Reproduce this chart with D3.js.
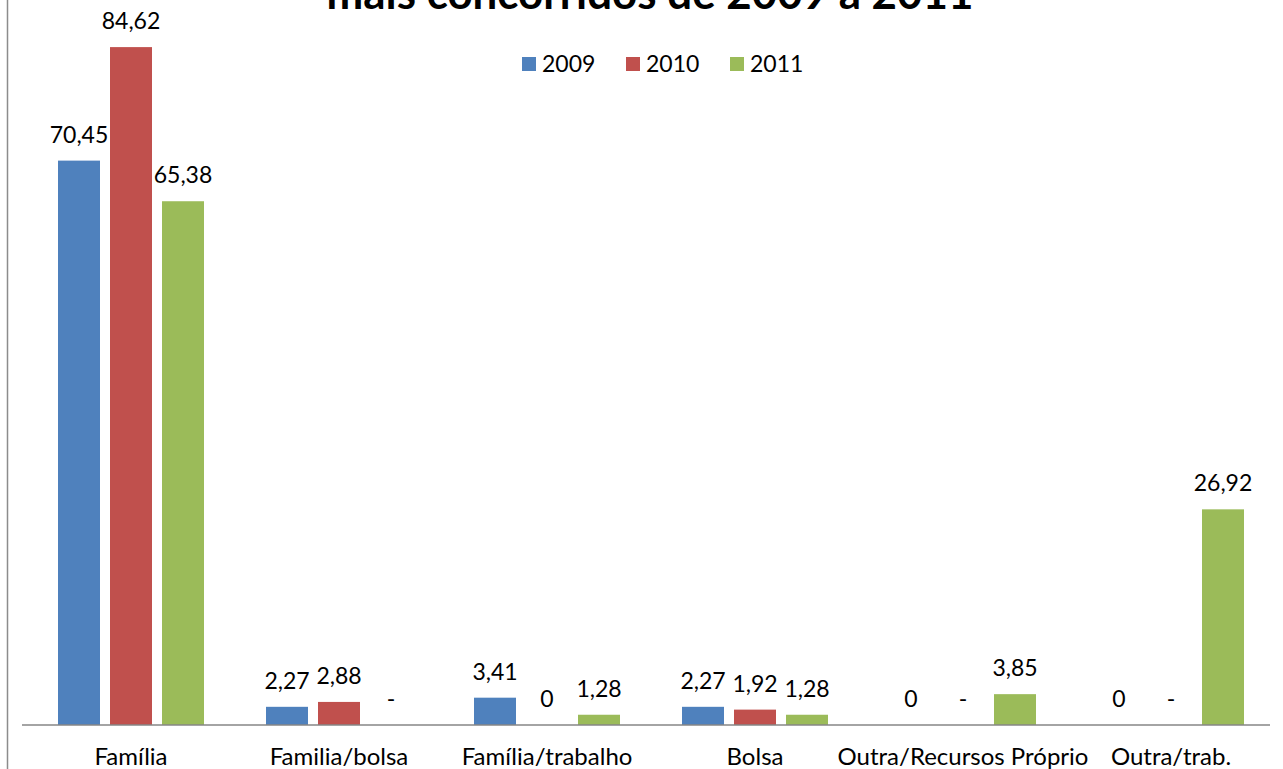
<!DOCTYPE html>
<html lang="pt">
<head>
  <meta charset="UTF-8">
  <title>mais concorridos de 2009 a 2011</title>
  <script src="https://d3js.org/d3.v7.min.js"></script>
  <style>
    body { margin: 0; background: #fff; }
    text { font-family: Lato, "Open Sans", sans-serif; fill: #000; }
  </style>
</head>
<body>
  <svg width="1283" height="769"></svg>
<script>
  const svg = d3.select("svg");
  const width = +svg.attr("width");
  const height = +svg.attr("height");

  // dados
  const categories = ["Família", "Familia/bolsa", "Família/trabalho", "Bolsa", "Outra/Recursos Próprio", "Outra/trab."];
  const series = ["2009", "2010", "2011"];
  const v2009 = [70.45, 2.27, 3.41, 2.27, 0, 0];
  const v2010 = [84.62, 2.88, 0, 1.92, null, null];
  const v2011 = [65.38, null, 1.28, 1.28, 3.85, 26.92];
  const colors = ["#4F81BD", "#C0504D", "#9BBB59"];
  const titleText = "mais concorridos de 2009 a 2011";

  const values = [v2009, v2010, v2011];
  const rows = [];
  categories.forEach((c, i) => {
    series.forEach((s, j) => rows.push({ cat: c, serie: s, value: values[j][i] }));
  });

  const baseY = 725;
  const x0 = d3.scaleBand().domain(categories).range([27, 1275]);
  const step = 52, barW = 42;
  const pIn = (step - barW) / step;
  const pOut = (x0.bandwidth() / step - 3 + pIn) / 2;
  const x1 = d3.scaleBand().domain(series).range([0, x0.bandwidth()])
    .paddingInner(pIn).paddingOuter(pOut);
  const y = d3.scaleLinear().domain([0, 90]).range([baseY, 4]);
  const color = d3.scaleOrdinal().domain(series).range(colors);

  // borda esquerda
  svg.append("line")
    .attr("x1", 7.5).attr("x2", 7.5).attr("y1", 0).attr("y2", height)
    .attr("stroke", "#8c8c8c").attr("stroke-width", 1.5);

  // barras
  svg.append("g").selectAll("rect")
    .data(rows.filter(d => d.value))
    .join("rect")
    .attr("x", d => x0(d.cat) + x1(d.serie))
    .attr("y", d => y(d.value))
    .attr("width", x1.bandwidth())
    .attr("height", d => baseY - y(d.value))
    .attr("fill", d => color(d.serie));

  // rótulos de valores
  svg.append("g").selectAll("text")
    .data(rows)
    .join("text")
    .attr("x", d => x0(d.cat) + x1(d.serie) + x1.bandwidth() / 2)
    .attr("y", d => y(d.value || 0) - 18)
    .attr("text-anchor", "middle")
    .attr("font-size", "23px")
    .text(d => d.value === null ? "-" : String(d.value).replace(".", ","));

  // eixo x
  const xAxis = svg.append("g")
    .attr("transform", `translate(0,${baseY})`)
    .call(d3.axisBottom(x0).tickSize(0).tickPadding(0));
  xAxis.select(".domain").attr("stroke", "#868686").attr("stroke-width", 1.5)
    .attr("d", "M22,0H1270");
  xAxis.selectAll("text")
    .attr("font-size", "24px")
    .attr("font-family", "Lato, 'Open Sans', sans-serif")
    .attr("fill", "#000")
    .attr("y", 40)
    .attr("dy", null);

  // título
  const title = svg.append("text")
    .attr("x", 650).attr("y", 9)
    .attr("text-anchor", "middle")
    .attr("font-weight", "bold")
    .attr("font-size", "36px")
    .text(titleText);
  const tw = title.node().getComputedTextLength();
  title.attr("font-size", (36 * 647 / tw) + "px");

  // legenda
  const legend = svg.append("g").selectAll("g")
    .data(series)
    .join("g")
    .attr("transform", (d, i) => `translate(${522 + i * 104},57)`);
  legend.append("rect")
    .attr("width", 14).attr("height", 14)
    .attr("fill", d => color(d));
  legend.append("text")
    .attr("x", 20).attr("y", 15)
    .attr("font-size", "23px")
    .text(d => d);
</script>
</body>
</html>
